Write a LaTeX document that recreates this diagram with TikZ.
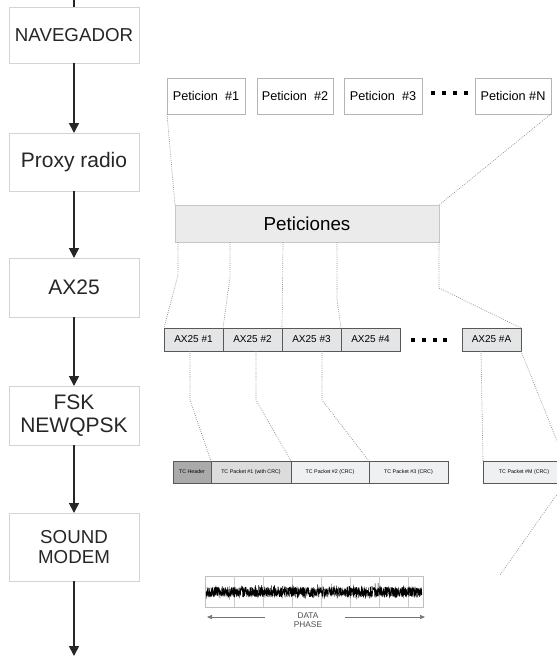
\documentclass[tikz,border=0pt]{standalone}
\usepackage{fontspec}
\setmainfont{Liberation Sans}
\usetikzlibrary{positioning}
\usetikzlibrary{arrows.meta}
\definecolor{stageline}{HTML}{D4D4D4}
\definecolor{petline}{HTML}{B4B4B4}
\definecolor{petsfill}{HTML}{EBEBEB}
\definecolor{petsline}{HTML}{C6C6C6}
\definecolor{axfill}{HTML}{E3E5E7}
\definecolor{darkline}{HTML}{585858}
\definecolor{hdrfill}{HTML}{AAAAAA}
\definecolor{tconefill}{HTML}{DCDCDC}
\definecolor{tcfill}{HTML}{EEF0F2}
\definecolor{dotgray}{HTML}{8E8E8E}
\tikzset{
    stage/.style = {rectangle, draw=stageline, line width=0.8pt, minimum width=130pt, inner sep=0pt, outer sep=0pt, align=center, text=black!85, font=\fontsize{21}{23}\selectfont},
    petbox/.style = {rectangle, draw=petline, line width=0.7pt, minimum height=36pt, inner sep=0pt, outer sep=0pt, font=\fontsize{12.7}{14}\selectfont},
    petsbox/.style = {rectangle, draw=petsline, fill=petsfill, line width=0.7pt, minimum width=264pt, minimum height=37pt, inner sep=0pt, outer sep=0pt, font=\fontsize{18.8}{20}\selectfont},
    axbox/.style = {rectangle, draw=darkline, fill=axfill, line width=0.8pt, minimum width=59pt, minimum height=23pt, inner sep=0pt, outer sep=0pt, font=\fontsize{10}{11}\selectfont},
    tcbox/.style = {rectangle, draw=darkline, fill=tcfill, line width=0.9pt, minimum height=22pt, inner sep=0pt, outer sep=0pt, font=\fontsize{5.3}{6}\selectfont},
    edgen/.style = {-{Triangle[length=10pt,width=10pt]}, line width=1.6pt, draw=black!85},
    edgel/.style = {line width=1.6pt, draw=black!85},
    dotl/.style = {draw=dotgray, line width=0.7pt, dash pattern=on 0.8pt off 1.3pt},
    datarr/.style = {-{Triangle[length=5pt,width=4pt]}, draw=black!55, line width=0.6pt},
    wave/.style = {line width=0.35pt, draw=black}
}

\begin{document}
\begin{tikzpicture}[x=1pt,y=-1pt]
\useasboundingbox (0,0) rectangle (557,657);
%
% left column
\node[stage,minimum height=56pt,font=\fontsize{18.7}{20}\selectfont] at (74,35) (nav) {NAVEGADOR};
\node[stage,minimum height=58pt] at (74,162) (proxy) {Proxy radio};
\node[stage,minimum height=59pt] at (74,287.5) (ax) {AX25};
\node[stage,minimum height=59pt] at (74,415.5) (fsk) {FSK\\NEWQPSK};
\node[stage,minimum height=68pt,font=\fontsize{18.7}{20}\selectfont] at (74,547) (snd) {SOUND\\MODEM};
\coordinate (in) at (74,0);
\coordinate (out) at (74,656);
%
\draw[edgel] (in) -- (nav);
\draw[edgen] (nav) -- (proxy);
\draw[edgen] (proxy) -- (ax);
\draw[edgen] (ax) -- (fsk);
\draw[edgen] (fsk) -- (snd);
\draw[edgen] (snd) -- (out);
%
% peticiones
\node[petbox,minimum width=78pt] at (206,96) (p1) {Peticion\ \ \#1};
\node[petbox,minimum width=76pt] at (295,96) (p2) {Peticion\ \ \#2};
\node[petbox,minimum width=78pt] at (383,96) (p3) {Peticion\ \ \#3};
\node[petbox,minimum width=76pt] at (513,96) (pN) {Peticion \#N};
\foreach \x in {433,444,455,466} \fill (\x-1.8,91.2) rectangle (\x+1.8,94.8);
\node[petsbox] at (307,223.5) (pet) {Peticiones};
%
\draw[dotl] (p1.south west) -- (pet.north west);
\draw[dotl] (pN.south east) -- (pet.north east);
%
% AX25 frames
\node[axbox] at (193.5,339.5) (a1) {AX25 \#1};
\node[axbox,right=0pt of a1] (a2) {AX25 \#2};
\node[axbox,right=0pt of a2] (a3) {AX25 \#3};
\node[axbox,right=0pt of a3] (a4) {AX25 \#4};
\foreach \x in {413,424,435,445} \fill (\x-1.8,338.2) rectangle (\x+1.8,341.8);
\node[axbox] at (491.5,339.5) (aA) {AX25 \#A};
%
\draw[dotl] ([xshift=3pt]pet.south west) -- ++(0,33) -- (a1.north west);
\draw[dotl] ([xshift=55pt]pet.south west) -- ++(0,35) -- (a2.north west);
\draw[dotl] ([xshift=108pt]pet.south west) -- (a3.north west);
\draw[dotl] ([xshift=162pt]pet.south west) -- ++(0,58) -- (a4.north west);
\draw[dotl] (pet.south east) -- ++(0,46) -- (aA.north east);
%
% TC packets
\node[tcbox,fill=hdrfill,minimum width=38pt] at (192,472) (hdr) {TC Header};
\node[tcbox,fill=tconefill,minimum width=80pt,right=0pt of hdr] (t1) {TC Packet \#1 (with CRC)};
\node[tcbox,minimum width=78pt,right=0pt of t1] (t2) {TC Packet \#2 (CRC)};
\node[tcbox,minimum width=79pt,right=0pt of t2] (t3) {TC Packet \#3 (CRC)};
\node[tcbox,minimum width=82pt] at (524,472) (tM) {TC Packet \#M (CRC)};
\coordinate (tail) at (500,575);
%
\draw[dotl] ([xshift=-3.5pt]a1.south) -- ++(0,49) -- (hdr.north east);
\draw[dotl] ([xshift=3.5pt]a2.south) -- ++(0,49) -- (t1.north east);
\draw[dotl] ([xshift=10.5pt]a3.south) -- ++(0,49) -- (t2.north east);
\draw[dotl] ([xshift=-10.5pt]aA.south) -- (tM.north west);
\draw[dotl] (aA.south east) -- (tM.north east);
\draw[dotl] (tM.south east) -- (tail);
%
% signal
\draw[black!25, line width=0.5pt] (205,576) rectangle (423,607);
\foreach \x in {234,263,292,321,350,379,408} \draw[black!20, line width=0.4pt] (\x,576) -- (\x,607);
\pgfmathsetseed{7}
\draw[wave] plot[domain=206:422, samples=1800] (\x,{592+rand*(5+8*rnd*rnd*rnd*rnd)});
%
\node[align=center,font=\fontsize{8.3}{9.3}\selectfont,text=black!70] at (308,620.5) (dlab) {DATA\\PHASE};
\coordinate (dl0) at (265,617);
\coordinate (dl1) at (207,617);
\coordinate (dr0) at (345,617);
\coordinate (dr1) at (425,617);
\draw[datarr] (dl0) -- (dl1);
\draw[datarr] (dr0) -- (dr1);

\end{tikzpicture}
\end{document}
